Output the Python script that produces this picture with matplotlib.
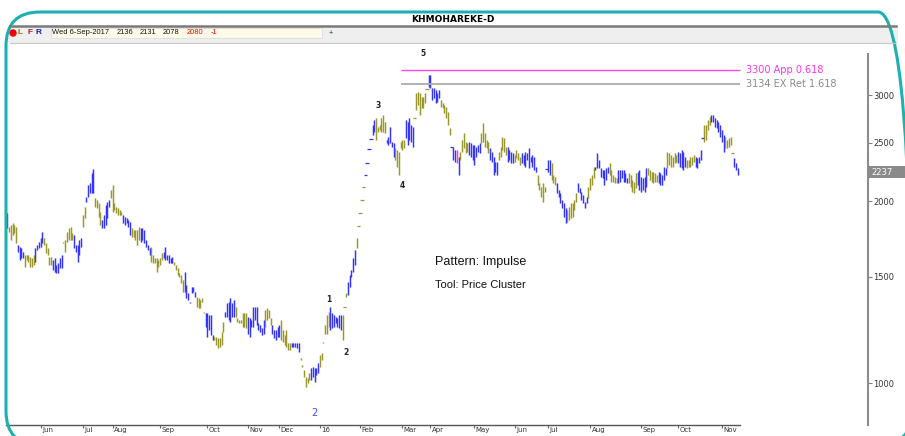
import numpy as np
import matplotlib
matplotlib.use('Agg')
import matplotlib.pyplot as plt
from matplotlib.collections import LineCollection
from matplotlib.patches import FancyBboxPatch, Circle, Rectangle
from matplotlib.lines import Line2D
from matplotlib.transforms import IdentityTransform
from matplotlib.ticker import NullLocator

# daily bars (one row per colour run), prices
HIGH = [
    1911,
    1816, 1828, 1840, 1828, 1816,
    1693, 1683, 1672, 1651,
    1630, 1630, 1630, 1620, 1609, 1630,
    1672, 1693, 1715, 1737, 1782,
    1737, 1704, 1672, 1620, 1620,
    1599, 1609, 1569, 1579, 1609, 1630,
    1715, 1726, 1782, 1805, 1816, 1770,
    1759, 1693, 1693, 1726, 1737,
    1899, 1961,
    2037, 2129, 2142, 2226, 2261,
    2024, 2011, 1986, 1923,
    1863, 1899, 1973, 1998, 2011,
    2089, 2129, 1986, 1961, 1948, 1935, 1923,
    1899, 1887, 1875, 1863, 1851,
    1805, 1793, 1793, 1793, 1816,
    1805, 1805, 1793, 1726, 1693, 1672,
    1683, 1630, 1609, 1609, 1599, 1609, 1640,
    1651, 1683, 1630, 1630, 1609, 1620,
    1589, 1569, 1549, 1520, 1510, 1482,
    1529, 1454, 1408, 1364, 1445, 1445, 1417,
    1390, 1381, 1373, 1381, 1313,
    1304, 1304, 1296, 1296, 1201,
    1193, 1193, 1186, 1186, 1216, 1264,
    1313, 1356, 1364, 1381, 1356, 1373,
    1338, 1280, 1272, 1272, 1304, 1304, 1304,
    1288, 1280, 1272, 1338, 1338, 1338, 1256, 1248, 1232, 1272,
    1321, 1330, 1321, 1280,
    1248, 1224, 1224, 1240, 1248,
    1272, 1224, 1201, 1224, 1163, 1163,
    1163, 1163, 1163, 1163, 1163,
    1099, 1071, 1051, 1024, 1018, 1038,
    1058, 1064, 1058, 1058, 1078,
    1113, 1120, 1171, 1248, 1296, 1313,
    1338, 1304, 1296, 1288, 1280, 1296, 1296,
    1296, 1338, 1408,
    1473, 1510, 1539, 1609, 1661,
    1737, 1820, 1911, 2011, 2109,
    2212, 2318, 2440, 2539, 2677, 2729,
    2747, 2660, 2677, 2747, 2781, 2712,
    2528, 2561, 2660, 2512, 2496,
    2448, 2433, 2418, 2512, 2528, 2528,
    2729, 2712, 2747, 2677, 2660,
    2747, 3019, 3040, 3019, 2982, 2982, 3019, 3072,
    3240, 3240, 3080, 3080, 3060, 3019, 3060,
    2945, 2908, 2890, 2872, 2817, 2643,
    2458, 2464, 2433,
    2433,
    2372,
    2418, 2528, 2593, 2512, 2496,
    2512, 2496, 2480, 2480, 2464, 2480, 2496,
    2593, 2695, 2593, 2528, 2512,
    2448, 2418, 2372, 2327, 2327,
    2418, 2464, 2561, 2544, 2464,
    2464, 2433, 2418, 2402,
    2387, 2433, 2402, 2372,
    2402, 2387, 2418, 2402, 2448, 2372, 2387, 2372, 2283,
    2212, 2142, 2115, 2142, 2115,
    2264, 2342, 2342,
    2313, 2212, 2198,
    2142, 2089, 2062, 2011, 1986, 1948,
    1935, 1961, 1986, 1986, 2011, 2062,
    2142, 2102, 2076, 2049, 1998, 2036,
    2115, 2184, 2212, 2283,
    2283, 2402, 2342, 2269, 2255, 2255, 2269, 2283,
    2313, 2255, 2212, 2198, 2184,
    2255, 2255, 2255, 2255, 2226, 2184,
    2226, 2212, 2170, 2156, 2226,
    2241, 2255, 2198, 2184, 2198, 2269,
    2269, 2255, 2241, 2241, 2226, 2212,
    2241, 2226, 2212, 2283, 2269,
    2418, 2402, 2387, 2372, 2402, 2387,
    2418, 2402, 2433, 2418, 2372,
    2342, 2342, 2372, 2372, 2387,
    2372, 2357, 2372, 2433, 2544,
    2677, 2677, 2729, 2764,
    2781, 2781, 2747, 2729, 2712, 2677, 2626, 2577,
    2561, 2528, 2544, 2561, 2402,
    2357, 2313, 2269,
]
LOW = [
    1805,
    1782, 1726, 1759, 1770, 1704,
    1651, 1599, 1609, 1609,
    1559, 1599, 1589, 1559, 1559, 1569,
    1589, 1661, 1672, 1683, 1704,
    1693, 1640, 1630, 1569, 1569,
    1539, 1529, 1520, 1520, 1549, 1549,
    1704, 1651, 1715, 1726, 1726, 1726,
    1672, 1651, 1589, 1630, 1683,
    1816, 1875,
    1998, 2037, 2062, 2062, 2062,
    1961, 1948, 1887, 1828,
    1805, 1805, 1828, 1875, 1961,
    2024, 1923, 1935, 1911, 1899, 1899, 1899,
    1840, 1828, 1840, 1816, 1759,
    1748, 1748, 1726, 1693, 1726,
    1715, 1726, 1704, 1683, 1661, 1630,
    1589, 1579, 1579, 1529, 1559, 1569, 1599,
    1609, 1599, 1599, 1579, 1579, 1579,
    1569, 1539, 1510, 1501, 1463, 1417,
    1417, 1381, 1373, 1356, 1408, 1417, 1390,
    1338, 1330, 1330, 1364, 1304,
    1240, 1193, 1224, 1201, 1178,
    1178, 1156, 1141, 1149, 1156, 1216,
    1288, 1288, 1272, 1264, 1288, 1288,
    1288, 1264, 1256, 1256, 1240, 1240, 1232,
    1208, 1193, 1240, 1240, 1272, 1248, 1224, 1216, 1201, 1208,
    1240, 1272, 1280, 1248,
    1208, 1186, 1178, 1193, 1193,
    1178, 1171, 1156, 1149, 1134, 1134,
    1149, 1149, 1149, 1141, 1127,
    1092, 1064, 1024, 986, 999, 1012,
    1012, 1024, 1005, 1031, 1038,
    1064, 1092, 1163, 1208, 1208, 1240,
    1224, 1232, 1240, 1256, 1240, 1232, 1224,
    1178, 1338, 1390,
    1399, 1445, 1501, 1529, 1569,
    1672, 1820, 1911, 2011, 2109,
    2212, 2318, 2440, 2539, 2577, 2610,
    2528, 2610, 2626, 2610, 2610, 2593,
    2496, 2480, 2496, 2464, 2372,
    2342, 2283, 2212, 2448, 2433, 2448,
    2544, 2480, 2528, 2512, 2464,
    2747, 2835, 2890, 2781, 2853, 2853, 2908, 3072,
    3097, 3080, 2945, 2963, 2908, 2927, 2963,
    2872, 2853, 2799, 2747, 2677, 2577,
    2458, 2342, 2327,
    2313,
    2212,
    2342, 2418, 2448, 2402, 2418,
    2387, 2372, 2342, 2298, 2372, 2418, 2402,
    2496, 2512, 2464, 2448, 2402,
    2342, 2327, 2212, 2241, 2212,
    2342, 2372, 2433, 2418, 2387,
    2327, 2342, 2313, 2313,
    2327, 2357, 2342, 2298,
    2313, 2298, 2283, 2342, 2269, 2327, 2283, 2255, 2241,
    2129, 2089, 2036, 1998, 2076,
    2264, 2241, 2212,
    2170, 2142, 2129,
    2062, 2036, 1986, 1948, 1887, 1840,
    1851, 1863, 1875, 1887, 1935, 1998,
    2076, 2062, 2011, 1986, 1948, 1986,
    2024, 2089, 2129, 2184,
    2255, 2269, 2269, 2198, 2184, 2129, 2170, 2226,
    2212, 2156, 2156, 2142, 2142,
    2142, 2156, 2184, 2156, 2156, 2142,
    2142, 2115, 2076, 2062, 2102,
    2129, 2089, 2076, 2089, 2076, 2115,
    2212, 2170, 2156, 2142, 2156, 2156,
    2142, 2129, 2129, 2170, 2212,
    2269, 2298, 2283, 2283, 2313, 2327,
    2313, 2283, 2269, 2255, 2283,
    2269, 2283, 2283, 2298, 2327,
    2283, 2269, 2313, 2342, 2544,
    2512, 2528, 2626, 2677,
    2712, 2712, 2660, 2643, 2610, 2561, 2512, 2418,
    2448, 2448, 2464, 2480, 2402,
    2283, 2255, 2212,
]
COLOR_RUNS = [
    ('b', 1), ('y', 5), ('b', 4), ('y', 6), ('b', 5), ('y', 5), ('b', 6), ('y', 6),
    ('b', 5), ('y', 2), ('b', 5), ('y', 4), ('b', 5), ('y', 7), ('b', 5), ('y', 5),
    ('b', 6), ('y', 7), ('b', 6), ('y', 6), ('b', 7), ('y', 5), ('b', 5), ('y', 6),
    ('b', 6), ('y', 7), ('b', 10), ('y', 4), ('b', 5), ('y', 6), ('b', 5), ('y', 6),
    ('b', 5), ('y', 6), ('b', 7), ('y', 3), ('b', 5), ('y', 5), ('b', 6), ('y', 6),
    ('b', 5), ('y', 6), ('b', 5), ('y', 8), ('b', 7), ('y', 6), ('b', 3), ('m', 1),
    ('b', 1), ('y', 5), ('b', 7), ('y', 5), ('b', 5), ('y', 5), ('b', 4), ('y', 4),
    ('b', 9), ('y', 5), ('b', 3), ('y', 3), ('b', 6), ('y', 6), ('b', 6), ('y', 4),
    ('b', 8), ('y', 5), ('b', 6), ('y', 5), ('b', 6), ('y', 6), ('b', 5), ('y', 6),
    ('b', 5), ('y', 5), ('b', 5), ('y', 4), ('b', 8), ('y', 5), ('b', 3),
]

MONTH_IDX = [19, 43, 60, 87, 114, 137, 155, 178, 201, 225, 241, 266, 289, 308, 332, 361, 382, 407]
MONTH_LBL = ['Jun', 'Jul', 'Aug', 'Sep', 'Oct', 'Nov', 'Dec', '16', 'Feb', 'Mar', 'Apr',
             'May', 'Jun', 'Jul', 'Aug', 'Sep', 'Oct', 'Nov']

WAVE_IDX = [183, 193, 211, 225, 237]
WAVE_PRICE = [1378, 1125, 2879, 2121, 3523]
WAVE_LBL = ['1', '2', '3', '4', '5']
ALT_WAVE = (175, 892, '2')

FIB_START = 224
FIB_LEVELS = [3300, 3134]
FIB_LBL = ['3300 App 0.618', '3134 EX Ret 1.618']
LAST_PRICE = 2237
Y_TICKS = [1000, 1500, 2000, 2500, 3000]

W, H = 905, 436
BAR_C = {'b': '#3434ff', 'y': '#9a9630', 'm': '#ff33ee'}
GLOW_C = {'b': '#b4b4ff', 'y': '#dcdaa8', 'm': '#ffaaf5'}
UI_FONT = ['Liberation Sans', 'DejaVu Sans']


def fx(px):
    return px / W


def fy(py):
    return 1 - py / H


fig = plt.figure(figsize=(W / 100, H / 100), dpi=100)
fig.patch.set_facecolor('white')
ax = fig.add_axes([fx(6), fy(425), fx(868) - fx(6), fy(54) - fy(425)])
ax.set_yscale('log')
ax.set_ylim(852, 3510)
ax.set_xlim(-0.74, 490.2)

high = np.array(HIGH, dtype=float)
low = np.array(LOW, dtype=float)
cols = ''.join(c * n for c, n in COLOR_RUNS)
x = np.arange(len(high))

rng = high > low
segs = [[(xi, lo), (xi, hi)] for xi, lo, hi in zip(x[rng], low[rng], high[rng])]
ax.add_collection(LineCollection(segs, colors=[GLOW_C[c] for c, r in zip(cols, rng) if r],
                                 linewidths=2.0, alpha=0.6))
ax.add_collection(LineCollection(segs, colors=[BAR_C[c] for c, r in zip(cols, rng) if r],
                                 linewidths=0.8))
flat = ~rng
ax.hlines(high[flat], x[flat] - 1.0, x[flat] + 1.0,
          colors=[BAR_C[c] for c, f in zip(cols, flat) if f], linewidth=0.9)

# fib levels
ax.hlines(FIB_LEVELS[0], FIB_START, len(high) + 0.5, color='#ff44ee', linewidth=1.0)
ax.hlines(FIB_LEVELS[1], FIB_START, len(high) + 0.5, color='#aaaaaa', linewidth=1.3)
for lvl, lbl, c in zip(FIB_LEVELS, FIB_LBL, ['#ff33ee', '#8a8a8a']):
    ax.text(len(high) + 3.5, lvl, lbl, color=c, fontsize=7, va='center', ha='left')

# wave labels
for i, p, lbl in zip(WAVE_IDX, WAVE_PRICE, WAVE_LBL):
    ax.text(i, p, lbl, fontsize=5.5, fontweight='bold', color='#222222',
            ha='center', va='center', clip_on=False)
ax.text(ALT_WAVE[0], ALT_WAVE[1], ALT_WAVE[2], fontsize=7, color='#4444ff',
        ha='center', va='center')

# axes styling
for s in ['left', 'top']:
    ax.spines[s].set_visible(False)
ax.spines['right'].set_color('#8c8c8c')
ax.spines['right'].set_linewidth(1.5)
ax.spines['bottom'].set_color('#555555')
ax.spines['bottom'].set_linewidth(1.0)
ax.spines['bottom'].set_bounds(-0.5, len(high) + 0.5)

ax.yaxis.tick_right()
ax.set_yticks(Y_TICKS)
ax.set_yticklabels([str(v) for v in Y_TICKS])
ax.yaxis.set_minor_locator(NullLocator())
ax.tick_params(axis='y', length=3, width=0.8, color='#808080', labelsize=6,
               pad=1, labelcolor='#333333')

ax.set_xticks(MONTH_IDX)
ax.tick_params(axis='x', length=2.5, width=0.8, color='#666666', labelbottom=False)
for i, lbl in zip(MONTH_IDX, MONTH_LBL):
    ax.annotate(lbl, xy=(i, 0), xycoords=('data', 'axes fraction'), xytext=(1, -1.5),
                textcoords='offset points', ha='left', va='top', fontsize=5, color='#333333')

# last price box
fig.add_artist(Rectangle((fx(868), fy(178)), fx(905) - fx(868), 12 / H,
                         transform=fig.transFigure, facecolor='#8a8a8a', edgecolor='none',
                         zorder=4))
fig.text(fx(871), fy(172), str(LAST_PRICE), fontsize=6, color='white', va='center',
         ha='left', zorder=5)

# pattern texts
fig.text(fx(435), fy(262), 'Pattern: Impulse', fontsize=9, va='center', ha='left',
         family=['Liberation Sans Narrow', 'Liberation Sans'], color='#111111')
fig.text(fx(435), fy(285), 'Tool: Price Cluster', fontsize=8, va='center', ha='left',
         family=['Liberation Sans Narrow', 'Liberation Sans'], color='#111111')

# header and toolbar
fig.add_artist(Rectangle((fx(8), fy(43)), fx(898) - fx(8), 16 / H, transform=fig.transFigure,
                         facecolor='#efefef', edgecolor='none'))
fig.add_artist(Rectangle((fx(51), fy(38)), fx(322) - fx(51), 10 / H, transform=fig.transFigure,
                         facecolor='#fffbe8', edgecolor='#dddddd', linewidth=0.6))
fig.add_artist(Line2D([fx(10), fx(896)], [fy(26), fy(26)], color='#7a7a7a', linewidth=1.8))
fig.add_artist(Line2D([fx(10), fx(896)], [fy(43), fy(43)], color='#c8c8c8', linewidth=0.8))
fig.text(fx(453), fy(19), 'KHMOHAREKE-D', fontsize=6.5, fontweight='bold', ha='center', va='center')
fig.add_artist(Circle((13, H - 33), 3, transform=IdentityTransform(), color='#ee0000'))
for px, t, c in [(17, 'L', '#808000'), (27, 'F', '#b02020'), (36, 'R', '#1a1a9a')]:
    fig.text(fx(px), fy(33), t, fontsize=6, fontweight='bold', color=c, va='center',
             family=UI_FONT)
for px, t, c in [(52, 'Wed 6-Sep-2017', '#111111'), (117, '2136', '#111111'),
                 (140, '2131', '#111111'), (163, '2078', '#111111'),
                 (187, '2080', '#ee0000'), (211, '-1', '#ee0000'), (329, '+', '#333333')]:
    fig.text(fx(px), fy(33), t, fontsize=5.4, color=c, va='center', family=UI_FONT)

# teal rounded frame
fig.add_artist(FancyBboxPatch((6, -9), 906, 433, boxstyle='round,pad=0,rounding_size=34',
                              transform=IdentityTransform(), facecolor='none',
                              edgecolor='#1cb0b0', linewidth=2.2))

fig.savefig('out.png', dpi=100)
